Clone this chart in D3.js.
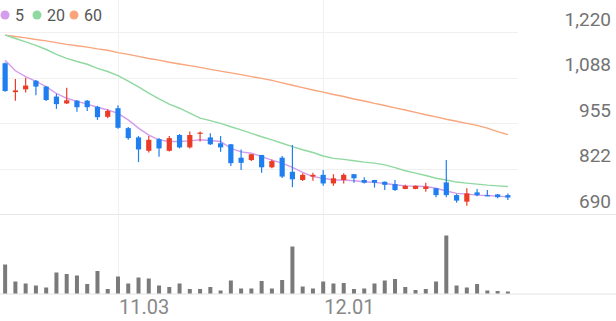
<!DOCTYPE html>
<html>
<head>
<meta charset="utf-8">
<script src="https://cdn.jsdelivr.net/npm/d3@7"></script>
<style>
  body { margin: 0; background: #fff; }
  svg { display: block; }
  text { font-family: Roboto, "Noto Sans", sans-serif; }
</style>
</head>
<body>
<svg width="616" height="321" viewBox="0 0 616 321"></svg>
<script>
// data
var dates = ["10.17","10.20","10.21","10.22","10.23","10.24","10.27","10.28","10.29","10.30",
  "10.31","11.03","11.04","11.05","11.06","11.07","11.10","11.11","11.12","11.13",
  "11.14","11.17","11.18","11.19","11.20","11.21","11.24","11.25","11.26","11.27",
  "11.28","12.01","12.02","12.03","12.04","12.05","12.08","12.09","12.10","12.11",
  "12.12","12.15","12.16","12.17","12.18","12.19","12.22","12.23","12.24","12.26"];

var open  = [1129,1045,1053,1078,1061,1032,1012,1020,1020,1002, 973, 998, 940, 913, 874, 908, 874, 920, 884, 924,
             913, 896, 893, 854, 847, 862, 826, 854, 813, 789, 799, 804, 779, 789, 806, 789, 789, 784, 777, 763,
             763, 763, 765, 782, 745, 726, 753, 745, 747, 745];
var high  = [1131,1083,1087,1080,1063,1040,1058,1022,1022,1005, 995,1007, 943, 917, 917, 911, 917, 923, 930, 930,
             925, 917, 894, 878, 865, 862, 849, 859, 891, 809, 810, 818, 806, 809, 806, 797, 789, 785, 789, 775,
             773, 781, 766, 847, 748, 765, 763, 760, 748, 750];
var low   = [1046,1020,1044,1036,1019, 996,1010, 988, 990, 964, 969, 938, 906, 841, 869, 857, 872, 881, 881, 901,
             891, 871, 830, 818, 844, 810, 823, 795, 768, 786, 787, 772, 772, 779, 781, 779, 767, 760, 757, 762,
             762, 755, 739, 739, 723, 714, 742, 742, 736, 731];
var close = [1048,1050,1064,1061,1022,1010,1021,1001,1001, 972, 990, 941, 911, 878, 906, 881, 911, 884, 920, 927,
             893, 884, 838, 839, 864, 826, 844, 799, 791, 804, 804, 779, 794, 804, 794, 781, 781, 775, 760, 772,
             772, 770, 745, 745, 729, 750, 745, 742, 739, 738];

var volume = [290000,120000,100000, 80000, 60000,210000,195000,180000, 95000,225000,
               45000,170000,100000,160000,150000, 80000, 65000,100000, 45000, 45000,
               65000, 30000,130000, 50000, 50000,125000, 50000,135000,470000, 70000,
               50000,120000,100000,105000, 45000, 50000,100000,130000,145000, 65000,
               35000, 45000,120000,580000, 80000, 60000, 95000, 30000, 25000, 20000];

var ma5  = [1138,1107,1090,1076,1061,1041,1027,1018,1010,1001, 993, 983, 964, 940, 920, 906, 901, 901, 903, 906,
            904, 901, 881, 871, 867, 857, 847, 838, 826, 811, 799, 794, 789, 789, 787, 784, 782, 779, 775, 772,
            771, 770, 765, 757, 750, 748, 745, 744, 742, 740];
var ma20 = [1211,1201,1191,1181,1169,1155,1143,1134,1126,1114,1105,1093,1077,1060,1042,1025,1010, 998, 984, 969,
            962, 954, 944, 935, 925, 915, 906, 896, 886, 877, 869, 859, 852, 849, 845, 841, 838, 833, 825, 816,
            809, 802, 794, 789, 783, 780, 777, 774, 772, 770];
var ma60 = [1211,1207,1203,1198,1194,1189,1184,1180,1176,1171,1167,1160,1155,1149,1143,1138,1132,1127,1122,1117,
            1111,1106,1101,1096,1090,1085,1079,1072,1065,1058,1051,1045,1038,1032,1025,1019,1012,1006, 999, 993,
             986, 979, 973, 966, 960, 954, 948, 940, 930, 921];

var maNames = ["5", "20", "60"];
var yTicks = [690, 822.5, 955, 1087.5, 1220];
var yTickLabels = ["690", "822", "955", "1,088", "1,220"];
var xTickDates = ["11.03", "12.01"];

// colors
var upColor = "#ec3b25",
    downColor = "#1f7ef0",
    maColors = ["#d59bec", "#8fd9a1", "#f8a57c"];

var canvas = d3.select("svg");
var width = 616, height = 321;
var plotRight = 518;
var priceTop = 32, priceBottom = 214;
var volBase = 293.5, volHeight = 58;

// scales
var x = d3.scaleBand()
  .domain(d3.range(dates.length))
  .range([0, 513]);

var y = d3.scaleLinear()
  .domain([690, 1220])
  .range([priceBottom, priceTop]);

var yVol = d3.scaleLinear()
  .domain([0, d3.max(volume)])
  .range([volBase, volBase - volHeight]);

function cx(i) { return x(i) + x.bandwidth() / 2; }

// grid
canvas.selectAll(".hgrid")
  .data(yTicks.slice(1))
  .enter()
    .append("line")
    .attr("class", "hgrid")
    .attr("x1", 0)
    .attr("x2", plotRight)
    .attr("y1", function(d) { return Math.round(y(d)) + 0.5; })
    .attr("y2", function(d) { return Math.round(y(d)) + 0.5; })
    .style("stroke", "#f0f0f0")
    .style("stroke-width", 1);

canvas.selectAll(".vgrid")
  .data(xTickDates)
  .enter()
    .append("line")
    .attr("class", "vgrid")
    .attr("x1", function(d) { return Math.round(cx(dates.indexOf(d))) + 0.5; })
    .attr("x2", function(d) { return Math.round(cx(dates.indexOf(d))) + 0.5; })
    .attr("y1", 0)
    .attr("y2", volBase)
    .style("stroke", "#f0f0f0")
    .style("stroke-width", 1);

// bottom lines of price and volume panes
canvas.append("line")
  .attr("x1", 0).attr("x2", width)
  .attr("y1", Math.round(y(690)) + 0.5).attr("y2", Math.round(y(690)) + 0.5)
  .style("stroke", "#e8e8e8");

canvas.append("line")
  .attr("x1", 0).attr("x2", width)
  .attr("y1", volBase + 0.5).attr("y2", volBase + 0.5)
  .style("stroke", "#e3e3e3");

// y labels
canvas.selectAll(".ylabel")
  .data(yTicks)
  .enter()
    .append("text")
    .attr("class", "ylabel")
    .attr("x", 611)
    .attr("y", function(d) { return y(d) - 6.5; })
    .attr("text-anchor", "end")
    .style("font-size", "19px")
    .style("fill", "#737373")
    .text(function(d, i) { return yTickLabels[i]; });

// x labels
canvas.selectAll(".xlabel")
  .data(xTickDates)
  .enter()
    .append("text")
    .attr("class", "xlabel")
    .attr("x", function(d) { return cx(dates.indexOf(d)) + 1; })
    .attr("y", 314)
    .style("font-size", "20px")
    .style("fill", "#888")
    .text(function(d) { return d; });

// moving averages
var line = d3.line()
  .x(function(d, i) { return cx(i); })
  .y(function(d) { return y(d); });

canvas.selectAll(".ma")
  .data([ma60, ma20, ma5])
  .enter()
    .append("path")
    .attr("class", "ma")
    .attr("d", line)
    .style("fill", "none")
    .style("stroke", function(d, i) { return maColors[2 - i]; })
    .style("stroke-width", 1.4);

// candles
var candles = canvas.selectAll(".candle")
  .data(dates)
  .enter()
    .append("g")
    .attr("class", "candle");

candles.append("line")
  .attr("x1", function(d, i) { return cx(i); })
  .attr("x2", function(d, i) { return cx(i); })
  .attr("y1", function(d, i) { return y(high[i]); })
  .attr("y2", function(d, i) { return y(low[i]); })
  .style("stroke", function(d, i) { return close[i] >= open[i] ? upColor : downColor; })
  .style("stroke-width", 1.2);

candles.append("rect")
  .attr("x", function(d, i) { return cx(i) - 2.6; })
  .attr("width", 5.2)
  .attr("y", function(d, i) { return y(Math.max(open[i], close[i])); })
  .attr("height", function(d, i) { return Math.max(1.2, Math.abs(y(open[i]) - y(close[i]))); })
  .style("fill", function(d, i) { return close[i] >= open[i] ? upColor : downColor; });

// volume
canvas.selectAll(".vol")
  .data(volume)
  .enter()
    .append("rect")
    .attr("class", "vol")
    .attr("x", function(d, i) { return cx(i) - 2; })
    .attr("width", 4)
    .attr("y", function(d) { return yVol(d); })
    .attr("height", function(d) { return volBase - yVol(d); })
    .style("fill", "#7a7a7a");

// legend
var legendX = [5, 37, 74];
var legend = canvas.selectAll(".legend")
  .data(maNames)
  .enter()
    .append("g")
    .attr("class", "legend")
    .attr("transform", function(d, i) { return "translate(" + legendX[i] + ",15)"; });

legend.append("circle")
  .attr("r", 4.5)
  .style("fill", function(d, i) { return maColors[i]; });

legend.append("text")
  .attr("x", 10)
  .attr("y", 5.5)
  .style("font-size", "16px")
  .style("fill", "#555")
  .text(function(d) { return d; });
</script>
</body>
</html>
